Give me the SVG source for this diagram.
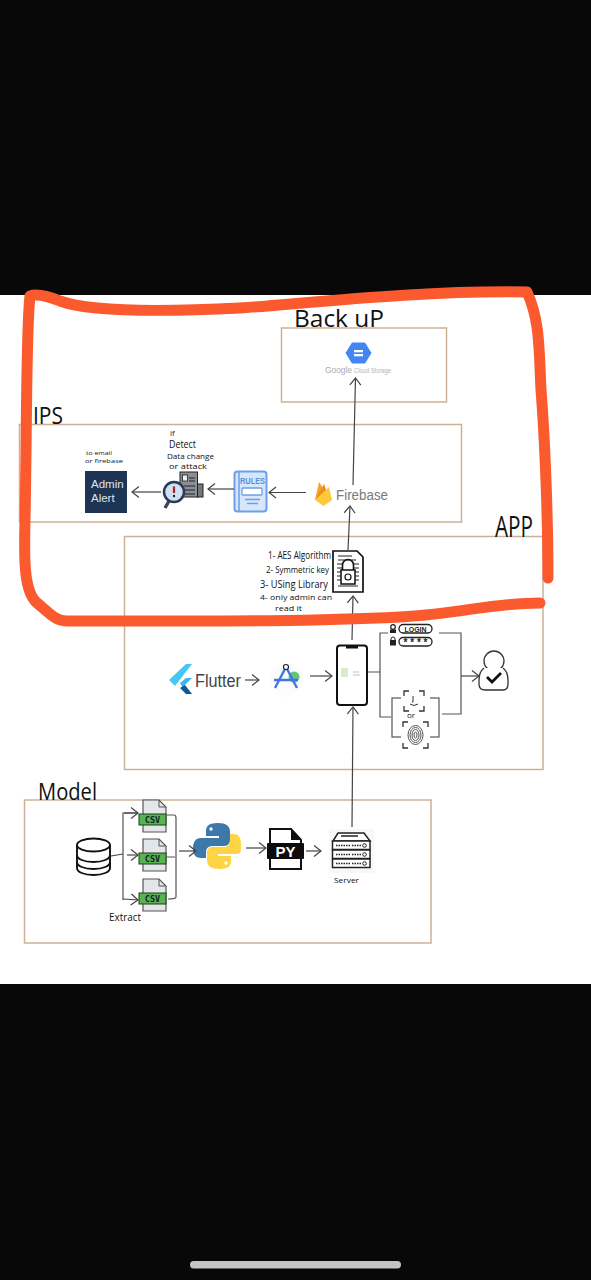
<svg xmlns="http://www.w3.org/2000/svg" width="591" height="1280" viewBox="0 0 591 1280">
<style>
.box{fill:none;stroke:#cdb196;stroke-width:1.5}
.hand{font-family:"Open Sans","Liberation Sans",sans-serif;font-weight:400;fill:#111}
.cn{fill:none;stroke:#444;stroke-width:1.2}
.ar{marker-end:url(#head)}
.ln{fill:none;stroke:#555;stroke-width:1.2}
.csvt{font-family:"DejaVu Sans Mono","Liberation Mono",monospace;font-weight:700;font-size:8.5px;fill:#123;text-anchor:middle}
.sans{font-family:"Liberation Sans",sans-serif}
</style>
<defs>
<marker id="head" markerUnits="userSpaceOnUse" markerWidth="14" markerHeight="14" refX="11" refY="7" orient="auto">
<path d="M4 1.5L11 7L4 12.500" fill="none" stroke="#444" stroke-width="1.200"/>
</marker>
<g id="csv">
<path d="M2 0H18L25 7V32H2Z" fill="#e4e7ea" stroke="#555" stroke-width="1.200"/>
<path d="M18 0V7H25" fill="none" stroke="#555" stroke-width="1"/>
<rect x="-2" y="14" width="27" height="11" fill="#58b44f" stroke="#1c3d1c" stroke-width="1"/>
<text class="csvt" x="11.500" y="22.500">CSV</text>
</g>
<g id="corners">
<path d="M0 5V0H5M15 0H20V5M20 15V20H15M5 20H0V15" fill="none" stroke="#333" stroke-width="1.300"/>
</g>
</defs>
<rect width="591" height="1280" fill="#080808"/>
<rect y="295" width="591" height="689" fill="#fff"/>
<rect x="190" y="1261" width="211" height="7.500" rx="3.700" fill="#c4c4c4"/>

<g id="backup">
<rect class="box" x="281.500" y="328" width="165" height="74"/>
<text class="hand" x="294" y="327" font-size="24" textLength="90" lengthAdjust="spacingAndGlyphs">Back uP</text>
<path d="M352 342.500H365L371.500 353L365 363.500H352L345.500 353Z" fill="#4285f4"/>
<rect x="354" y="350" width="9" height="2.300" fill="#fff"/>
<rect x="354" y="354" width="9" height="2.300" fill="#fff"/>
<text class="sans" x="325" y="373" font-size="9.500" fill="#aaa" textLength="27" lengthAdjust="spacingAndGlyphs">Google</text>
<text class="sans" x="354" y="373" font-size="7" fill="#b5b5b5" textLength="37" lengthAdjust="spacingAndGlyphs">Cloud Storage</text>
</g>

<g id="ips">
<rect class="box" x="19.500" y="424.500" width="442" height="97.500"/>
<text class="hand" x="33" y="424" font-size="24" textLength="30" lengthAdjust="spacingAndGlyphs">IPS</text>
</g>

<g id="admin-alert">
<rect x="85" y="471" width="42" height="42" fill="#1d3454"/>
<text class="sans" x="91" y="488" font-size="11.500" fill="#dfe6ee">Admin</text>
<text class="sans" x="91" y="502" font-size="11.500" fill="#dfe6ee">Alert</text>
<text class="hand" x="86" y="455" font-size="6" textLength="26" lengthAdjust="spacingAndGlyphs">to email</text>
<text class="hand" x="85" y="463" font-size="6" textLength="38" lengthAdjust="spacingAndGlyphs">or firebase</text>
</g>

<g id="detect">
<text class="hand" x="170" y="436" font-size="8">if</text>
<text class="hand" x="169" y="448" font-size="11" textLength="27" lengthAdjust="spacingAndGlyphs">Detect</text>
<text class="hand" x="167" y="459" font-size="7.500" textLength="47" lengthAdjust="spacingAndGlyphs">Data change</text>
<text class="hand" x="169" y="469" font-size="7.500" textLength="38" lengthAdjust="spacingAndGlyphs">or attack</text>
<rect x="197" y="484" width="6" height="13" fill="#777" stroke="#222"/>
<rect x="180" y="472" width="17.500" height="25" fill="#8a8f94" stroke="#222"/>
<path d="M189 478h6M189 481h6M184 486h11M184 490h11M184 494h11" stroke="#222" stroke-width="1.200"/>
<rect x="182.500" y="475" width="5" height="6" fill="#eee" stroke="#222" stroke-width=".8"/>
<path d="M169 501L165 508" stroke="#445" stroke-width="3.500"/>
<circle cx="174" cy="492" r="10" fill="#cfe0f2" stroke="#2b3a55" stroke-width="2.500"/>
<path d="M174 486.500V493" stroke="#a22" stroke-width="2.200"/>
<circle cx="174" cy="496" r="1.200" fill="#222"/>
</g>

<g id="rules">
<rect x="234.500" y="471.500" width="32" height="40" rx="3" fill="#d7e6fb" stroke="#6c9fe6" stroke-width="2"/>
<path d="M239 471.500V511" stroke="#6c9fe6" stroke-width="1.500"/>
<text class="sans" x="240" y="484" font-size="8.500" font-weight="700" fill="#5b8fd8" textLength="25" lengthAdjust="spacingAndGlyphs">RULES</text>
<rect x="242" y="488" width="20" height="7" rx="1" fill="#fff" stroke="#6c9fe6" stroke-width="1.300"/>
<path d="M245 499.500H260M247 503.500H258" stroke="#6c9fe6" stroke-width="1.300"/>
</g>

<g id="firebase">
<path d="M315 500L319 482L325 491Z" fill="#f6a623"/>
<path d="M315 500L324 484L328 495Z" fill="#f08c1c"/>
<path d="M315 500L329 487L332 500L323.500 506Z" fill="#fcc93a"/>
<text class="sans" x="336" y="499.500" font-size="15.500" fill="#787a7d" textLength="52" lengthAdjust="spacingAndGlyphs">Firebase</text>
</g>

<g id="app">
<rect class="box" x="124.500" y="536.500" width="418.500" height="233"/>
<text class="hand" x="495" y="537" font-size="30" textLength="38" lengthAdjust="spacingAndGlyphs">APP</text>
</g>

<g id="encryption">
<text class="hand" x="268" y="559" font-size="10.500" textLength="63" lengthAdjust="spacingAndGlyphs">1- AES Algorithm</text>
<text class="hand" x="266" y="573" font-size="9.500" textLength="63" lengthAdjust="spacingAndGlyphs">2- Symmetric key</text>
<text class="hand" x="260" y="588" font-size="10" textLength="68" lengthAdjust="spacingAndGlyphs">3- USing Library</text>
<text class="hand" x="260" y="600" font-size="8" textLength="72" lengthAdjust="spacingAndGlyphs">4- only admin can</text>
<text class="hand" x="275" y="611" font-size="8" textLength="27" lengthAdjust="spacingAndGlyphs">read it</text>
<path d="M333 551H357L363 557V592H333Z" fill="#fff" stroke="#111" stroke-width="1.700"/>
<path d="M338 556H352M338 560H356M337 564H343M353 564H359M337 568H342M354 568H359M337 572H342M354 572H359M337 576H342M354 576H359M337 580H342M354 580H359M338 586H358" stroke="#222" stroke-width="1"/>
<path d="M342.500 570V565A5.500 5.500 0 0 1 353.500 565V570" fill="none" stroke="#111" stroke-width="1.600"/>
<rect x="341" y="570" width="14" height="14" fill="#fff" stroke="#111" stroke-width="1.500"/>
<circle cx="348" cy="577" r="3" fill="none" stroke="#111" stroke-width="1.200"/>
</g>

<g id="flutter">
<path d="M169 680L186 664H192L175 686Z" fill="#45c7f5"/>
<path d="M180 683L186 678H192L184 686L192 694H186Z" fill="#3fb4ee"/>
<path d="M180 688L185 685L192 694H186Z" fill="#0e5a94"/>
<text class="sans" x="195" y="687" font-size="18" fill="#444" textLength="46" lengthAdjust="spacingAndGlyphs">Flutter</text>
</g>

<g id="android-studio">
<circle cx="286" cy="680" r="17" fill="#fcfcfc"/>
<circle cx="294" cy="677" r="5.500" fill="#67c27a"/>
<path d="M286 667L275 688M286 667L297 688M274 680H298" fill="none" stroke="#3f78e0" stroke-width="2.400"/>
<circle cx="286" cy="667" r="2.500" fill="#fff" stroke="#223" stroke-width="1.200"/>
</g>

<g id="phone">
<rect x="337" y="645.500" width="30" height="59.500" rx="3" fill="#fff" stroke="#111" stroke-width="2"/>
<rect x="346" y="646" width="12" height="2.500" fill="#111"/>
<rect x="341" y="668" width="7" height="9" fill="#d9ecc9"/>
<path d="M353 672h6M353 675h7" stroke="#b5c4cf" stroke-width="1"/>
</g>

<g id="login">
<circle cx="393" cy="627" r="2.300" fill="none" stroke="#222" stroke-width="1.200"/>
<rect x="390" y="629.500" width="6" height="3.500" fill="#222"/>
<rect x="399" y="624.500" width="33" height="8.500" rx="4.200" fill="#fff" stroke="#222" stroke-width="1.300"/>
<text class="sans" x="415.500" y="631.500" font-size="6.500" font-weight="700" text-anchor="middle" fill="#222" textLength="22" lengthAdjust="spacingAndGlyphs">LOGIN</text>
<path d="M391 640V639A2 2 0 0 1 395 639V640" fill="none" stroke="#222"/>
<rect x="390" y="640" width="6" height="5.500" fill="#222"/>
<rect x="399" y="637.500" width="33" height="8.500" rx="4.200" fill="#fff" stroke="#222" stroke-width="1.300"/>
<text class="sans" x="415.500" y="645.500" font-size="10" font-weight="700" text-anchor="middle" fill="#222" textLength="24">****</text>
</g>

<g id="biometric">
<rect x="392" y="698" width="47" height="39" fill="none" stroke="#555" stroke-width="1.200"/>
<rect x="401" y="689" width="29" height="33" fill="#fff"/>
<use href="#corners" x="404" y="691"/>
<path d="M413 696V702H412M410 704Q414 707 418 704" fill="none" stroke="#333"/>
<text class="hand" x="407" y="718" font-size="8">or</text>
<rect x="401" y="722" width="29" height="28" fill="#fff"/>
<path d="M403 727V722H408M423 722H428V727M428 743V748H423M408 748H403V743" fill="none" stroke="#333" stroke-width="1.300"/>
<g fill="none" stroke="#555" stroke-width="1">
<ellipse cx="415.500" cy="735" rx="7.500" ry="9.500"/><ellipse cx="415.500" cy="735" rx="5.500" ry="7.500"/><ellipse cx="415.500" cy="735" rx="3.500" ry="5.500"/><ellipse cx="415.500" cy="735" rx="1.500" ry="3"/>
</g>
</g>

<g id="user">
<circle cx="494" cy="661" r="10" fill="#fff" stroke="#333" stroke-width="1.300"/>
<path d="M484 668Q479 672 479 680V684Q479 690 485 690H503Q508 690 508 684V680Q508 672 503 668" fill="#fff" stroke="#333" stroke-width="1.300"/>
<path d="M487 677L492 682L501 673" fill="none" stroke="#111" stroke-width="2.800"/>
</g>

<g id="model">
<rect class="box" x="24.500" y="800" width="406.500" height="143"/>
<text class="hand" x="38" y="800" font-size="23" textLength="59" lengthAdjust="spacingAndGlyphs">Model</text>
</g>

<g id="database">
<path d="M77 845V868C77 872 84 875 93.500 875S110 872 110 868V845" fill="#fff" stroke="#111" stroke-width="1.900"/>
<ellipse cx="93.500" cy="845" rx="16.500" ry="6.500" fill="#fff" stroke="#111" stroke-width="1.900"/>
<path d="M77 855C77 859 84 862 93.500 862S110 859 110 855M77 862C77 866 84 869 93.500 869S110 866 110 862" fill="none" stroke="#111" stroke-width="1.900"/>
</g>
<g id="csv-1"><use href="#csv" x="141" y="800"/></g>
<g id="csv-2"><use href="#csv" x="141" y="839"/></g>
<g id="csv-3"><use href="#csv" x="141" y="879"/></g>
<text class="hand" x="109" y="921" font-size="10" textLength="32" lengthAdjust="spacingAndGlyphs">Extract</text>

<g id="python">
<path d="M218 823C207 823 206 827 206 832V836H219V838H201C195 838 193 843 193 848C193 855 196 858 201 858H206V852C206 848 209 846 213 846H224C228 846 230 843 230 840V832C230 826 226 823 218 823Z" fill="#3c78aa"/>
<path d="M219 869C230 869 231 865 231 860V856H218V854H236C242 854 241 849 241 844C241 837 238 834 233 834H230V840C230 844 228 847 224 847H213C209 847 207 849 207 852V860C207 866 211 869 219 869Z" fill="#fdd444"/>
<circle cx="211" cy="829" r="1.700" fill="#fff"/><circle cx="226" cy="863" r="1.700" fill="#fff"/>
</g>

<g id="py-file">
<path d="M270 829H291L301 840V869H270Z" fill="#fff" stroke="#111" stroke-width="2"/>
<path d="M291 829V840H301Z" fill="#111"/>
<rect x="267" y="843" width="37" height="16" rx="1" fill="#0c0c0c"/>
<text class="sans" x="285.500" y="857" font-size="15" font-weight="700" fill="#fff" text-anchor="middle">PY</text>
</g>

<g id="server">
<rect x="329" y="829" width="45" height="44" fill="#f8f8f8"/>
<path d="M333 841L338 833H364L370 841Z" fill="#fff" stroke="#222" stroke-width="1.500"/>
<path d="M341 836H358" stroke="#222" stroke-width="1.500"/>
<g fill="#fff" stroke="#222" stroke-width="1.500">
<rect x="332.500" y="841" width="37.500" height="8.500"/><rect x="332.500" y="850" width="37.500" height="8.500"/><rect x="332.500" y="859" width="37.500" height="8.500"/>
</g>
<path d="M336 845.500H351M352 845.500H361M336 854.500H351M352 854.500H361M336 863.500H351M352 863.500H361" stroke="#222" stroke-width="1.300" stroke-dasharray="1.500 1"/>
<circle cx="364.500" cy="845.500" r="1.800" fill="none" stroke="#222"/><circle cx="364.500" cy="854.500" r="1.800" fill="none" stroke="#222"/><circle cx="364.500" cy="863.500" r="1.800" fill="none" stroke="#222"/>
<text class="hand" x="334" y="883" font-size="8" textLength="25" lengthAdjust="spacingAndGlyphs">Server</text>
</g>

<g id="connectors">
<path class="cn ar" d="M161 492H132"/>
<path class="cn ar" d="M234 489H208"/>
<path class="cn ar" d="M306 492.500H269"/>
<path class="cn ar" d="M353 485L355.500 378"/>
<path class="cn ar" d="M348 550L350 506"/>
<path class="cn ar" d="M352 640L353 596"/>
<path class="cn ar" d="M352 827L353 707"/>
<path class="cn ar" d="M245 680H259"/>
<path class="cn ar" d="M310 676H332"/>
<path class="ln" d="M368 672H380M388 633H380V717H391"/>
<path class="ln" d="M439 633H461V714H442"/>
<path class="cn ar" d="M461 676H479"/>
<path class="cn" d="M111 856L123 854"/>
<path class="ln" d="M137 813H123V900"/>
<path class="cn ar" d="M124 813H138"/>
<path class="cn ar" d="M127 855H138"/>
<path class="cn ar" d="M123 899L138 900"/>
<path class="ln" d="M167 815H174Q176 815 176 818V897Q176 899 168 899M167 857H175"/>
<path class="cn ar" d="M179 851H196"/>
<path class="cn ar" d="M246 848H266"/>
<path class="cn ar" d="M306 851H321"/>
</g>

<g id="highlight">
<path d="M30 296C26 330 27 420 25 520C24 560 24 590 36 602C50 614 56 621 66 621C200 621 300 622 400 617C460 614 490 603 540 603M548 578C548 520 545 440 541 390C539 350 540 320 527 292C420 290 300 304 240 308C160 312 90 312 60 301C45 295 35 294 30 296" fill="none" stroke="#fb5a2e" stroke-width="11" stroke-linecap="round" stroke-linejoin="round"/>
</g>
</svg>
